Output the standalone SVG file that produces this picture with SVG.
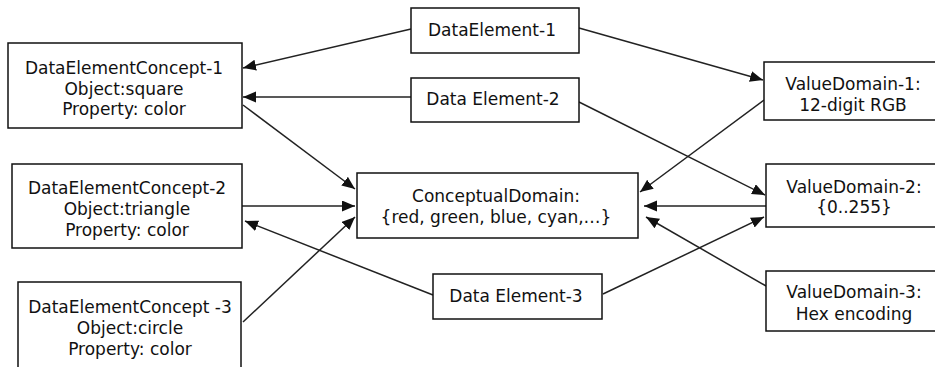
<svg xmlns="http://www.w3.org/2000/svg" width="935" height="367" viewBox="0 0 935 367">
<defs>
<style>
.box{fill:#fff;stroke:#111;stroke-width:1.5}
.t{font-family:"DejaVu Sans","Verdana",sans-serif;font-size:17px;fill:#111;text-anchor:middle}
.c{stroke:#222;stroke-width:1.5;fill:none;marker-end:url(#ah)}
</style>
<marker id="ah" markerUnits="userSpaceOnUse" markerWidth="14" markerHeight="12" refX="13" refY="5.5" orient="auto">
<path d="M0,0 L13,5.5 L0,11 z" fill="#111"/>
</marker>
</defs>
<rect width="935" height="367" fill="#fff"/>
<g id="connectors">
<line class="c" x1="411" y1="29" x2="243" y2="68"/>
<line class="c" x1="579" y1="28" x2="763" y2="80"/>
<line class="c" x1="411" y1="97" x2="243" y2="97"/>
<line class="c" x1="579" y1="102" x2="765" y2="195"/>
<line class="c" x1="243" y1="105" x2="355" y2="189"/>
<line class="c" x1="242" y1="206" x2="355" y2="206"/>
<line class="c" x1="243" y1="322" x2="355" y2="217"/>
<line class="c" x1="433" y1="295" x2="245" y2="221"/>
<line class="c" x1="603" y1="294" x2="764" y2="217"/>
<line class="c" x1="764" y1="100" x2="640" y2="192"/>
<line class="c" x1="766" y1="206" x2="644" y2="206"/>
<line class="c" x1="766" y1="286" x2="646" y2="217"/>
</g>
<g id="dec1">
<rect class="box" x="8" y="43" width="234" height="85"/>
<text class="t" x="124" y="74">DataElementConcept-1</text>
<text class="t" x="124" y="95">Object:square</text>
<text class="t" x="124" y="115">Property: color</text>
</g>
<g id="dec2">
<rect class="box" x="12" y="164" width="230" height="84"/>
<text class="t" x="127" y="194">DataElementConcept-2</text>
<text class="t" x="127" y="215">Object:triangle</text>
<text class="t" x="127" y="236">Property: color</text>
</g>
<g id="dec3">
<rect class="box" x="18" y="282" width="223" height="95"/>
<text class="t" x="130" y="313">DataElementConcept -3</text>
<text class="t" x="130" y="334">Object:circle</text>
<text class="t" x="130" y="355">Property: color</text>
</g>
<g id="de1">
<rect class="box" x="411" y="8" width="168" height="45"/>
<text class="t" x="492" y="36">DataElement-1</text>
</g>
<g id="de2">
<rect class="box" x="411" y="78" width="168" height="44"/>
<text class="t" x="493" y="105">Data Element-2</text>
</g>
<g id="de3">
<rect class="box" x="433" y="274" width="169" height="45"/>
<text class="t" x="516" y="302">Data Element-3</text>
</g>
<g id="cd">
<rect class="box" x="357" y="173" width="281" height="65"/>
<text class="t" x="496" y="202">ConceptualDomain:</text>
<text class="t" x="496" y="223">{red, green, blue, cyan,…}</text>
</g>
<g id="vd1">
<rect class="box" x="764" y="62" width="180" height="58"/>
<text class="t" x="853" y="90">ValueDomain-1:</text>
<text class="t" x="853" y="111">12-digit RGB</text>
</g>
<g id="vd2">
<rect class="box" x="766" y="164" width="180" height="63"/>
<text class="t" x="854" y="193">ValueDomain-2:</text>
<text class="t" x="854" y="213">{0..255}</text>
</g>
<g id="vd3">
<rect class="box" x="766" y="271" width="180" height="60"/>
<text class="t" x="854" y="298">ValueDomain-3:</text>
<text class="t" x="854" y="320">Hex encoding</text>
</g>
</svg>
